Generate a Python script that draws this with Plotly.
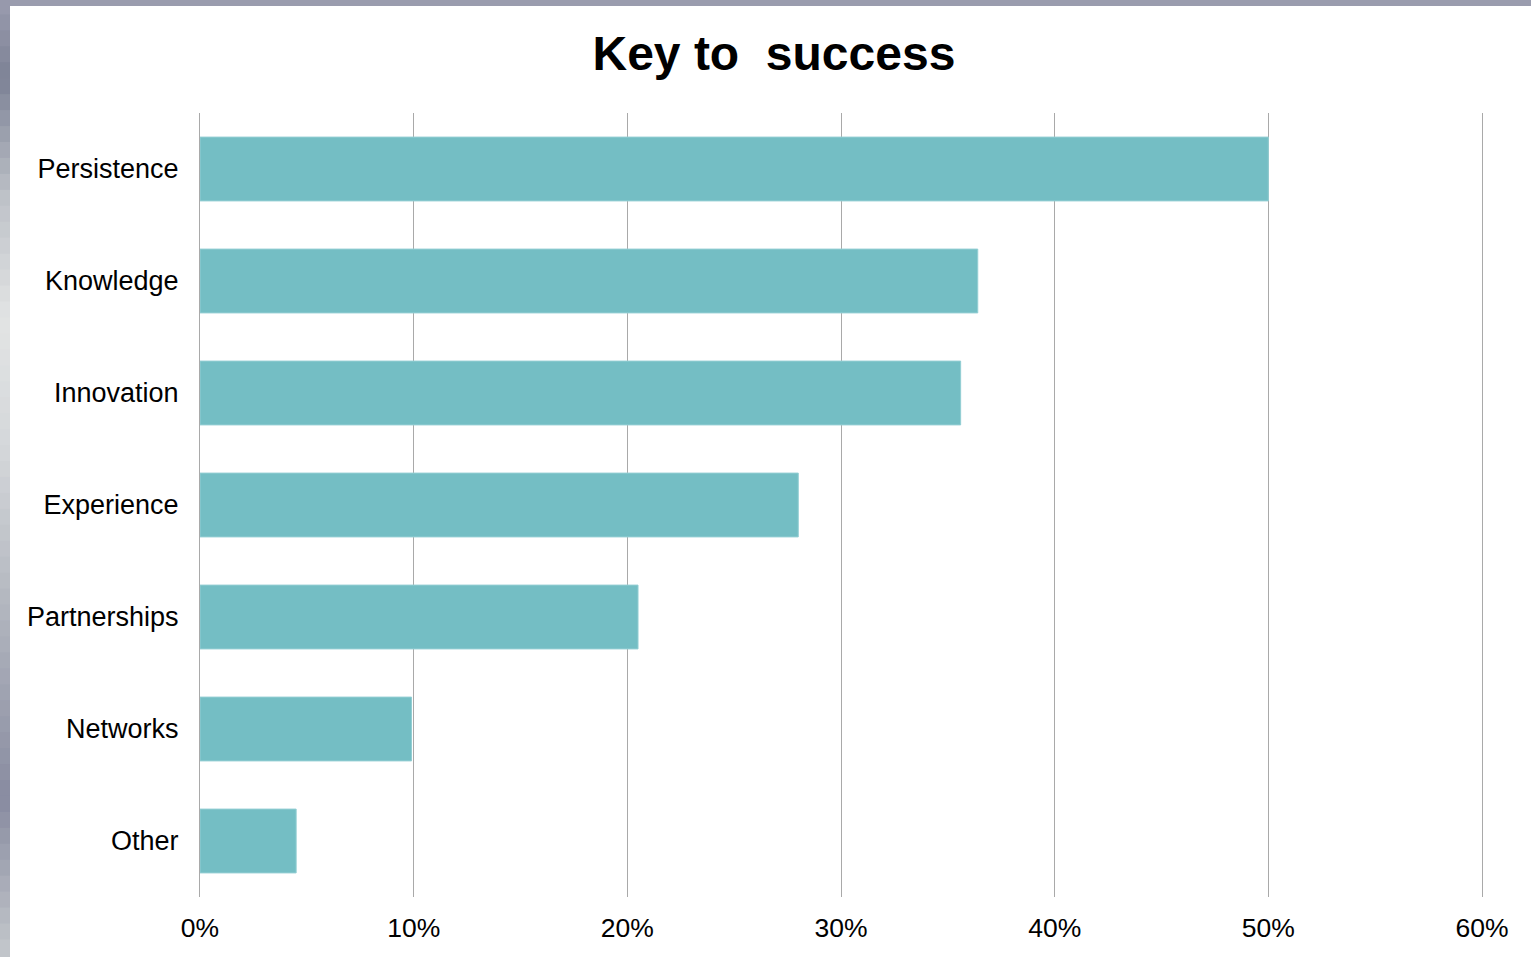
import plotly.graph_objects as go

# Survey results: share of respondents naming each factor
categories = ["Persistence", "Knowledge", "Innovation", "Experience",
              "Partnerships", "Networks", "Other"]
shares = [0.50, 0.364, 0.356, 0.280, 0.205, 0.099, 0.045]
x_ticks = [0, 0.1, 0.2, 0.3, 0.4, 0.5, 0.6]
x_tick_labels = ["0%", "10%", "20%", "30%", "40%", "50%", "60%"]

W, H = 1531, 957
BAR_COLOR = "#74bec4"
GRID_COLOR = "#a9a9a9"
FONT = "Liberation Sans, Arial, sans-serif"

fig = go.Figure(
    go.Bar(
        x=shares,
        y=categories,
        orientation="h",
        width=0.57,
        marker=dict(color=BAR_COLOR, line=dict(color="#93ced3", width=1)),
        hoverinfo="x+y",
    )
)

# Slide-style frame: thin grey-blue gradient strip on the left edge and a band on top
strip_stops = [(0, (154, 156, 174)), (80, (125, 130, 150)), (200, (190, 194, 200)),
               (320, (226, 228, 228)), (450, (212, 215, 218)), (600, (180, 184, 192)),
               (800, (136, 139, 160)), (957, (196, 200, 204))]
shapes = []
n_seg = 60
for i in range(n_seg):
    y0 = H * i / n_seg
    y1 = H * (i + 1) / n_seg
    ym = (y0 + y1) / 2
    for (a, ca), (b, cb) in zip(strip_stops[:-1], strip_stops[1:]):
        if a <= ym <= b:
            t = (ym - a) / (b - a)
            c = tuple(round(ca[k] + (cb[k] - ca[k]) * t) for k in range(3))
            break
    shapes.append(dict(type="rect", xref="paper", yref="paper", layer="above",
                       x0=(0 - 200) / 1282, x1=(10 - 200) / 1282,
                       y0=(897 - y1) / 784, y1=(897 - y0) / 784 + 0.002,
                       line=dict(width=0), fillcolor="rgb(%d,%d,%d)" % c))
shapes.append(dict(type="rect", xref="paper", yref="paper", layer="above",
                   x0=(10 - 200) / 1282, x1=(W - 200) / 1282,
                   y0=(897 - 6) / 784, y1=(897 - 0) / 784,
                   line=dict(width=0), fillcolor="#9a9cae"))

fig.update_layout(
    width=W,
    height=H,
    margin=dict(l=200, r=49, t=113, b=60),
    paper_bgcolor="white",
    plot_bgcolor="white",
    font=dict(family=FONT, color="black", size=26),
    title=dict(text="<b>Key to  success</b>", x=0.5055, xanchor="center",
               y=1 - 53 / H, yanchor="middle", yref="container",
               font=dict(family=FONT, size=48, color="black")),
    bargap=0.43,
    showlegend=False,
    shapes=shapes,
    xaxis=dict(
        range=[0, 0.6],
        tickvals=x_ticks,
        ticktext=x_tick_labels,
        showgrid=True,
        gridcolor=GRID_COLOR,
        gridwidth=1,
        zeroline=False,
        showline=False,
        ticks="",
        ticklabelstandoff=12,
        tickfont=dict(size=26.5),
        fixedrange=True,
    ),
    yaxis=dict(
        categoryorder="array",
        categoryarray=categories,
        autorange="reversed",
        showgrid=False,
        zeroline=False,
        # vertical lines at the 0% and 60% edges of the plot
        showline=True,
        linecolor=GRID_COLOR,
        linewidth=1,
        mirror=True,
        ticks="",
        ticklabelstandoff=15,
        tickfont=dict(size=27),
        fixedrange=True,
    ),
)

fig.write_html("out.html")
